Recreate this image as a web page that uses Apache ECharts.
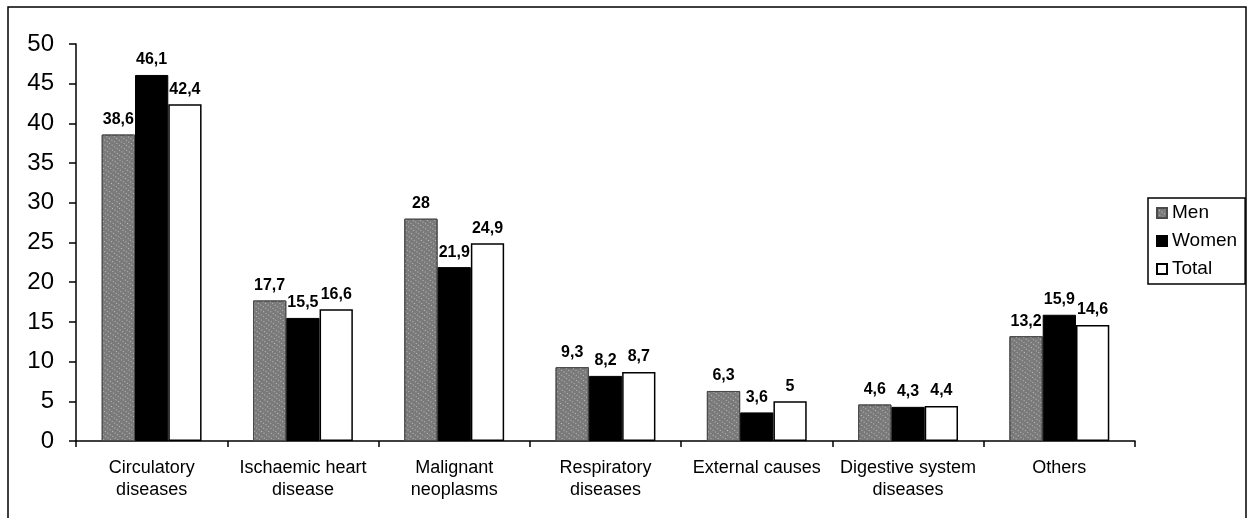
<!DOCTYPE html>
<html><head><meta charset="utf-8">
<script src="https://cdn.jsdelivr.net/npm/echarts@6/dist/echarts.min.js"></script>
<style>html,body{margin:0;padding:0;background:#fff}#c{width:1251px;height:518px}</style>
</head><body><div id="c"></div>
<script>
const categories = ['Circulatory\ndiseases','Ischaemic heart\ndisease','Malignant\nneoplasms','Respiratory\ndiseases','External causes','Digestive system\ndiseases','Others'];
const men = [38.6, 17.7, 28, 9.3, 6.3, 4.6, 13.2];
const women = [46.1, 15.5, 21.9, 8.2, 3.6, 4.3, 15.9];
const total = [42.4, 16.6, 24.9, 8.7, 5, 4.4, 14.6];
const yTicks = {min:0, max:50, interval:5};

const chart = echarts.init(document.getElementById('c'), null, {renderer:'canvas'});
const fmt = p => String(p.value).replace('.', ',');
const FF = 'Arial, Liberation Sans';
const lbl = {show:true, position:'top', distance:7, formatter:fmt, color:'#000', fontFamily:FF, fontWeight:'bold', fontSize:16};
chart.setOption({
  animation:false,
  backgroundColor:'#fff',
  graphic:[{type:'rect', shape:{x:8,y:7,width:1238,height:530}, style:{fill:'none', stroke:'#000', lineWidth:1.5}, silent:true}],
  grid:{left:76, top:44, right:116, bottom:77},
  legend:{
    orient:'vertical', left:1148, top:198, itemWidth:10, itemHeight:10, itemGap:8, icon:'rect',
    backgroundColor:'#fff', borderColor:'#000', borderWidth:1.5, borderRadius:0, padding:[5,8,5,8],
    textStyle:{fontFamily:FF, fontSize:19, lineHeight:20, color:'#000', padding:[0,0,0,0]},
    data:['Men','Women','Total']
  },
  xAxis:{
    type:'category', data:categories,
    axisLine:{lineStyle:{color:'#000', width:1.5}},
    axisTick:{show:true, length:6, lineStyle:{color:'#000', width:1.5}},
    axisLabel:{color:'#000', fontFamily:FF, fontSize:18, lineHeight:22, margin:16, interval:0}
  },
  yAxis:{
    type:'value', min:yTicks.min, max:yTicks.max, interval:yTicks.interval,
    axisLine:{show:true, lineStyle:{color:'#000', width:1.5}},
    axisTick:{show:true, length:7, lineStyle:{color:'#000', width:1.5}},
    splitLine:{show:false},
    axisLabel:{color:'#000', fontFamily:FF, fontSize:24, margin:22}
  },
  series:[
    {name:'Men', type:'bar', data:men, barGap:'0%', barCategoryGap:'34%',
     itemStyle:{color:'#7a7a7a', borderColor:'#4a4a4a', borderWidth:1,
       decal:{symbol:'rect', symbolSize:1, dashArrayX:[1,2], dashArrayY:[1,3], color:'rgba(210,210,210,0.8)', rotation:0.6}},
     label:lbl},
    {name:'Women', type:'bar', data:women, barGap:'0%', barCategoryGap:'34%',
     itemStyle:{color:'#000', borderColor:'#000', borderWidth:1}, label:lbl},
    {name:'Total', type:'bar', data:total, barGap:'0%', barCategoryGap:'34%',
     itemStyle:{color:'#fff', borderColor:'#000', borderWidth:1.5}, label:lbl}
  ]
});
</script></body></html>
